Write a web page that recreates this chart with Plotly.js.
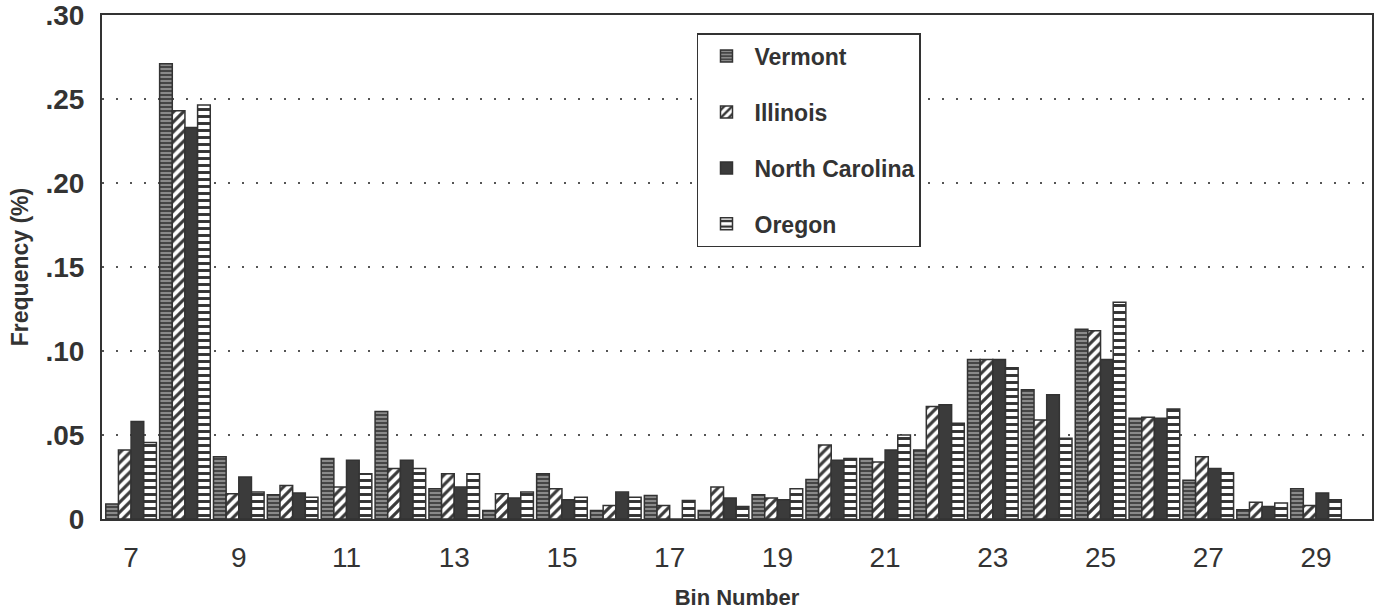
<!DOCTYPE html>
<html>
<head>
<meta charset="utf-8">
<script src="https://cdn.plot.ly/plotly-3.0.1.min.js"></script>
<style>html,body{margin:0;padding:0;background:#fff;}#chart{width:1384px;height:616px;}</style>
</head>
<body>
<div id="chart"></div>
<script>
const bins = [7,8,9,10,11,12,13,14,15,16,17,18,19,20,21,22,23,24,25,26,27,28,29];
const vermont  = [0.009,0.271,0.037,0.0145,0.036,0.064,0.018,0.005,0.027,0.005,0.014,0.005,0.0145,0.0235,0.036,0.041,0.095,0.077,0.113,0.060,0.023,0.0055,0.018];
const illinois = [0.041,0.243,0.015,0.020,0.019,0.030,0.027,0.015,0.018,0.008,0.008,0.019,0.0125,0.044,0.034,0.067,0.095,0.059,0.112,0.0605,0.037,0.010,0.008];
const northCarolina = [0.058,0.233,0.025,0.0155,0.035,0.035,0.019,0.0125,0.0115,0.016,0,0.0125,0.0115,0.035,0.041,0.068,0.095,0.074,0.095,0.060,0.030,0.0075,0.0155];
const oregon   = [0.0455,0.2465,0.016,0.013,0.027,0.030,0.027,0.016,0.013,0.013,0.011,0.0075,0.018,0.036,0.050,0.057,0.090,0.048,0.129,0.0655,0.0275,0.0095,0.0115];
const seriesNames = ['Vermont','Illinois','North Carolina','Oregon'];
const yTickVals = [0,0.05,0.10,0.15,0.20,0.25,0.30];
const yTickText = ['0','.05','.10','.15','.20','.25','.30'];
const xTickVals = [7,9,11,13,15,17,19,21,23,25,27,29];

const ink = '#333';
const lineStyle = {color: ink, width: 1.5};
const patterns = [
  {shape: '-', fgcolor: '#a8a8a8', bgcolor: '#454545', size: 4, solidity: 0.35},
  {shape: '/', fgcolor: '#3a3a3a', bgcolor: '#ffffff', size: 7, solidity: 0.45},
  null,
  {shape: '-', fgcolor: '#333333', bgcolor: '#ffffff', size: 7, solidity: 0.42}
];
const values = [vermont, illinois, northCarolina, oregon];

const traces = values.map((v, i) => {
  const m = {line: lineStyle};
  if (patterns[i]) { m.color = patterns[i].bgcolor; m.pattern = patterns[i]; }
  else { m.color = '#3b3b3b'; }
  return {type: 'bar', x: bins, y: v, name: seriesNames[i], marker: m, legendgroup: 'g' + i};
});

const fontFam = '"Liberation Sans", Arial, Helvetica, sans-serif';
const layout = {
  width: 1384, height: 616,
  margin: {l: 102, r: 12, t: 15, b: 97},
  paper_bgcolor: '#fff', plot_bgcolor: '#fff',
  barmode: 'group', bargap: 0.06, bargroupgap: 0,
  font: {family: fontFam, color: ink},
  showlegend: true,
  legend: {
    x: 0.4685, y: 0.964, xanchor: 'left', yanchor: 'top',
    bordercolor: ink, borderwidth: 1.5, bgcolor: '#fff',
    font: {size: 23, weight: 'bold', color: ink},
    tracegroupgap: 23, traceorder: 'grouped', itemwidth: 46
  },
  xaxis: {
    range: [6.46, 30.04], tickvals: xTickVals, ticktext: xTickVals.map(String),
    showline: true, mirror: true, linecolor: ink, linewidth: 2,
    showgrid: false, zeroline: false,
    ticks: 'outside', ticklen: 12, tickcolor: 'rgba(0,0,0,0)',
    tickfont: {size: 28, color: ink},
    title: {text: 'Bin Number', font: {size: 22, weight: 'bold', color: ink}, standoff: 18}
  },
  yaxis: {
    range: [0, 0.30002], tickvals: yTickVals, ticktext: yTickText,
    ticklabeloverflow: 'allow',
    showline: true, mirror: true, linecolor: ink, linewidth: 2,
    showgrid: true, gridcolor: '#555', gridwidth: 2, griddash: '2px,12px',
    zeroline: false,
    ticks: 'outside', ticklen: 10, tickcolor: 'rgba(0,0,0,0)',
    tickfont: {size: 28, weight: 'bold', color: ink},
    title: {text: 'Frequency (%)', font: {size: 23, weight: 'bold', color: ink}, standoff: 10}
  }
};

Plotly.newPlot('chart', traces, layout, {displayModeBar: false, staticPlot: true});
</script>
</body>
</html>
